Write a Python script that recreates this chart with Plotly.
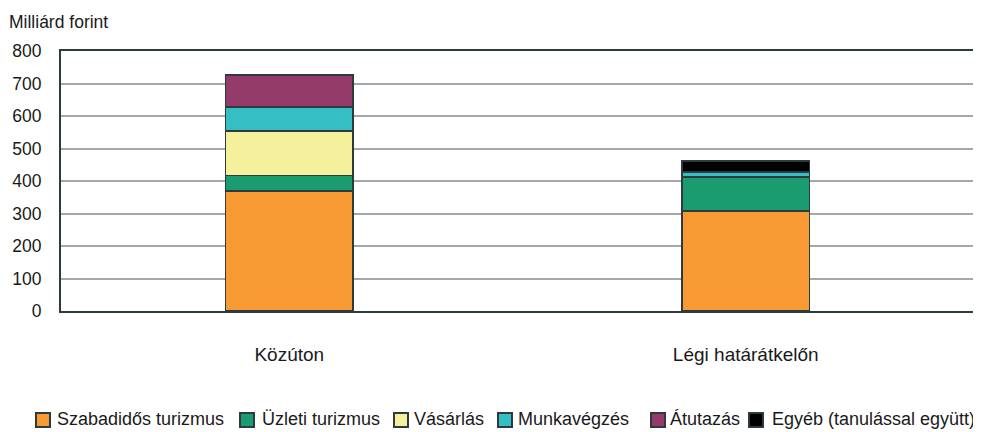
import plotly.graph_objects as go

categories = ["Közúton", "Légi határátkelőn"]
series_names = ["Szabadidős turizmus", "Üzleti turizmus", "Vásárlás",
                "Munkavégzés", "Átutazás", "Egyéb (tanulással együtt)"]
szabadidos = [369, 307]
uzleti = [48, 105]
vasarlas = [136, 0]
munkavegzes = [74, 16]
atutazas = [99, 0]
egyeb = [0, 33]
y_ticks = [0, 100, 200, 300, 400, 500, 600, 700, 800]

colors = ["#f79a33", "#1a9b70", "#f5f09c", "#35bfc4", "#943b6a", "#000000"]
values = [szabadidos, uzleti, vasarlas, munkavegzes, atutazas, egyeb]
EDGE = "#2f3a3e"

# page body has an 8px margin; figure sized to fit the window
OFF = 8
W, H = 973, 424
ML, MR, MT, MB = 53, 7, 43, 121
PW, PH = W - ML - MR, H - MT - MB
APAD = 3  # annotation internal padding


def fx(ref_px):
    return (ref_px - OFF - ML) / PW


def fy(ref_py):
    return (H - MB - (ref_py - OFF)) / PH


FONT = "Liberation Sans, Arial, sans-serif"
fig = go.Figure()
for name, vals, col in zip(series_names, values, colors):
    fig.add_trace(go.Bar(
        x=categories, y=vals, name=name, showlegend=False,
        marker=dict(color=col, line=dict(color=EDGE, width=1.6)),
    ))

# manual legend (swatch left edges / text starts in reference pixels)
legend_sw = [36, 240, 394, 498, 651, 749]
legend_tx = [58, 263, 415, 519, 671, 773]
shapes = []
annotations = []
for sx, tx, name, col in zip(legend_sw, legend_tx, series_names, colors):
    shapes.append(dict(type="rect", xref="paper", yref="paper",
                       x0=fx(sx), x1=fx(sx + 14),
                       y0=fy(427), y1=fy(413),
                       fillcolor=col, line=dict(color=EDGE, width=2)))
    annotations.append(dict(text=name, xref="paper", yref="paper",
                            x=fx(tx - APAD), y=fy(419),
                            xanchor="left", yanchor="middle",
                            showarrow=False, font=dict(size=18)))

annotations.append(dict(text="Milliárd forint", xref="paper", yref="paper",
                        x=fx(10 - APAD), y=fy(22), xanchor="left",
                        yanchor="middle", showarrow=False,
                        font=dict(size=17.5)))

fig.update_layout(
    barmode="stack",
    bargap=0.72,
    width=W, height=H,
    margin=dict(l=ML, r=MR, t=MT, b=MB, autoexpand=False),
    paper_bgcolor="white", plot_bgcolor="white",
    font=dict(family=FONT, size=17.5, color="#1a1a1a"),
    showlegend=False,
    shapes=shapes,
    annotations=annotations,
)
fig.update_yaxes(range=[0, 800], tickvals=y_ticks, showgrid=True,
                 gridcolor="#a4a8a8", gridwidth=2, zeroline=False,
                 showline=True, linecolor=EDGE, linewidth=2, mirror=True,
                 ticks="", ticklabelstandoff=14, automargin=False)
fig.update_xaxes(showgrid=False, showline=True, linecolor=EDGE,
                 linewidth=2, mirror=True, ticks="", ticklabelstandoff=25,
                 tickfont=dict(size=19), automargin=False)

fig.write_html("out.html")
